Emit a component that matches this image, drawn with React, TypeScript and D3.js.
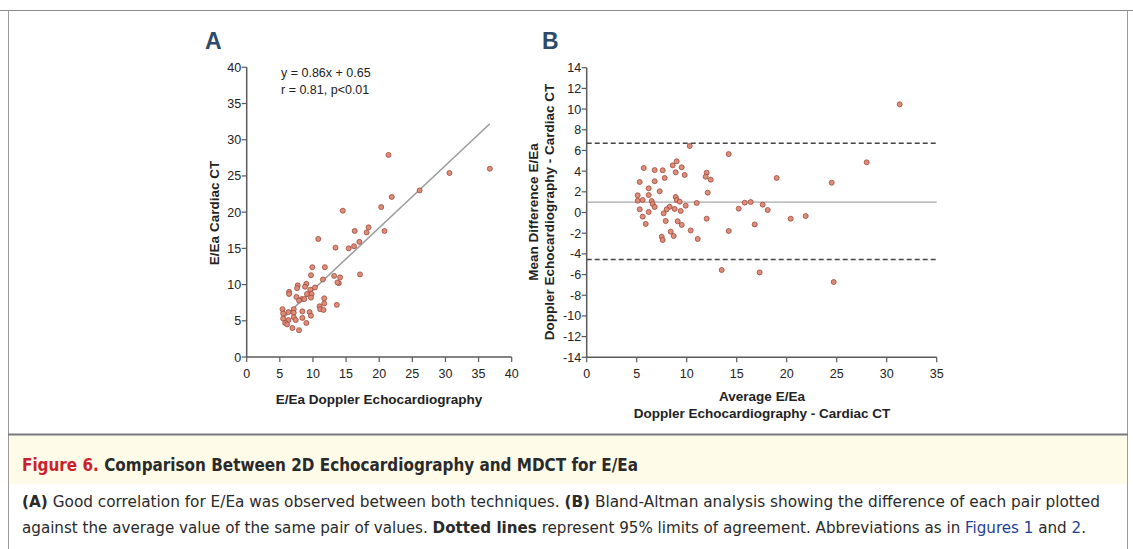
import React from "react";
import * as d3 from "d3";

// Panel A: E/Ea Doppler (x) vs E/Ea Cardiac CT (y)
const aX = [21.4,36.7,30.6,26.1,21.9,20.3,14.5,10.8,16.3,18.4,18.1,20.8,17.0,16.2,15.4,13.4,9.9,11.8,9.7,13.2,14.1,17.1,11.5,
  13.9,13.7,7.7,9.0,6.4,6.4,7.6,8.8,9.6,10.3,7.5,9.1,9.8,8.3,7.9,8.7,9.7,11.7,11.7,11.0,11.1,11.6,13.6,
  5.4,5.5,6.3,7.1,7.1,8.4,9.5,9.7,5.5,6.3,7.1,7.4,8.4,5.8,6.1,9.0,6.9,7.9];
const aY = [27.9,26.0,25.4,23.0,22.1,20.7,20.2,16.3,17.4,17.9,17.2,17.4,15.9,15.3,15.0,15.1,12.4,12.4,11.3,11.2,11.0,11.4,10.7,
  10.2,10.3,9.9,10.1,9.0,8.7,9.5,9.7,9.3,9.6,8.3,8.7,8.7,8.0,7.8,8.0,8.2,8.1,7.4,7.0,6.6,6.5,7.2,
  6.6,6.0,6.2,6.6,6.1,6.3,6.2,5.7,5.3,5.1,5.5,5.1,5.4,4.7,4.5,4.7,4.0,3.7];
const regSlope = 0.86;
const regIntercept = 0.65;
const regRange = [5.4, 36.7];

// Panel B: Bland-Altman
const bX = [31.3,10.3,14.2,28.0,24.5,19.0,5.7,6.8,7.6,8.6,9.0,9.5,8.9,9.8,7.8,12.0,11.9,12.4,5.3,6.8,6.2,7.3,12.1,5.1,6.2,8.9,
  5.1,5.6,6.5,9.0,9.3,6.6,11.0,15.8,16.4,6.8,9.9,17.6,5.3,8.3,8.0,8.8,15.2,18.1,6.2,9.4,7.7,5.6,12.0,20.4,21.9,7.9,9.1,
  5.9,9.5,16.8,10.4,8.4,14.2,7.5,8.7,7.6,11.1,13.5,17.3,24.7];
const bY = [10.46,6.43,5.65,4.85,2.88,3.34,4.3,4.1,4.08,4.56,4.95,4.37,3.89,3.63,3.34,3.85,3.46,3.17,2.95,3.02,2.34,2.05,1.92,1.66,1.69,1.5,
  1.14,1.21,1.11,1.21,1.05,0.82,0.92,0.95,1.01,0.53,0.66,0.76,0.31,0.56,0.31,0.34,0.37,0.24,0.05,0.15,-0.08,-0.4,-0.6,-0.6,-0.34,-0.82,-0.85,
  -1.1,-1.2,-1.15,-1.73,-1.85,-1.79,-2.34,-2.27,-2.66,-2.56,-5.56,-5.79,-6.72];
const meanDiff = 1.0;
const upperLoA = 6.7;
const lowerLoA = -4.55;

const aTicks = [0, 5, 10, 15, 20, 25, 30, 35, 40];
const bXTicks = [0, 5, 10, 15, 20, 25, 30, 35];
const bYTicks = [-14, -12, -10, -8, -6, -4, -2, 0, 2, 4, 6, 8, 10, 12, 14];

const FONT = "'Liberation Sans', Arial, Helvetica, sans-serif";
const CAP = "'Liberation Sans Narrow', 'DejaVu Sans Condensed', 'Liberation Sans', sans-serif";
const AXIS = "#5a5a5a";
const TXT = "#222";
const PT_FILL = "#df8c79";
const PT_STROKE = "#9a4a3b";
const TICK_FS = 12.5;
const TITLE_FS = 13.5;

export default function App() {
  const ax = d3.scaleLinear().domain([0, 40]).range([246.7, 511.7]);
  const ay = d3.scaleLinear().domain([0, 40]).range([357, 67.3]);
  const bx = d3.scaleLinear().domain([0, 35]).range([586.7, 936.7]);
  const by = d3.scaleLinear().domain([-14, 14]).range([357.3, 67.7]);

  const regLine = d3.line<number>()
    .x((d) => ax(d))
    .y((d) => ay(regSlope * d + regIntercept))(regRange);

  return (
    <div style={{ position: "fixed", left: 0, top: 0 }}>
      <svg width={1133} height={549} style={{ display: "block", background: "#fff" }}>
        {/* frame */}
        <line x1={0} x2={1133} y1={10.5} y2={10.5} stroke="#8a8a8a" strokeWidth={1} />
        <line x1={8.5} x2={8.5} y1={10} y2={549} stroke="#9a9a9a" strokeWidth={1} />
        <line x1={1127.5} x2={1127.5} y1={10} y2={549} stroke="#9a9a9a" strokeWidth={1} />
        <rect x={9} y={436} width={1118} height={48} fill="#fefbe9" />
        <line x1={8} x2={1128} y1={434.5} y2={434.5} stroke="#7a7a7a" strokeWidth={2} />

        {/* Panel A */}
        <text x={205} y={49} fontFamily={FONT} fontWeight="bold" fontSize={23} fill="#2e4b6c">A</text>
        <line x1={ax(0)} x2={ax(0)} y1={ay(0)} y2={ay(40)} stroke={AXIS} strokeWidth={1.5} />
        <line x1={ax(0)} x2={ax(40)} y1={ay(0)} y2={ay(0)} stroke={AXIS} strokeWidth={1.5} />
        {aTicks.map((t) => (
          <g key={"ay" + t}>
            <line x1={ax(0) - 5} x2={ax(0)} y1={ay(t)} y2={ay(t)} stroke={AXIS} strokeWidth={1.2} />
            <text x={ax(0) - 5.5} y={ay(t) + 4.5} textAnchor="end" fontFamily={FONT} fontSize={TICK_FS} fill={TXT}>{t}</text>
          </g>
        ))}
        {aTicks.map((t) => (
          <g key={"ax" + t}>
            <line x1={ax(t)} x2={ax(t)} y1={ay(0)} y2={ay(0) + 5} stroke={AXIS} strokeWidth={1.2} />
            <text x={ax(t)} y={ay(0) + 21} textAnchor="middle" fontFamily={FONT} fontSize={TICK_FS} fill={TXT}>{t}</text>
          </g>
        ))}
        <path d={regLine || ""} stroke="#9b9b9b" strokeWidth={1.5} fill="none" />
        {aX.map((x, i) => (
          <circle key={"a" + i} cx={ax(x)} cy={ay(aY[i])} r={2.5} fill={PT_FILL} stroke={PT_STROKE} strokeWidth={0.8} />
        ))}
        <text x={281} y={77} fontFamily={FONT} fontSize={12.5} fill={TXT}>y = 0.86x + 0.65</text>
        <text x={281} y={94} fontFamily={FONT} fontSize={12.5} fill={TXT}>r = 0.81, p&lt;0.01</text>
        <text x={379} y={404} textAnchor="middle" fontFamily={FONT} fontWeight="bold" fontSize={TITLE_FS} fill={TXT}>E/Ea Doppler Echocardiography</text>
        <text transform="translate(219,213) rotate(-90)" textAnchor="middle" fontFamily={FONT} fontWeight="bold" fontSize={TITLE_FS} fill={TXT}>E/Ea Cardiac CT</text>

        {/* Panel B */}
        <text x={542} y={49} fontFamily={FONT} fontWeight="bold" fontSize={23} fill="#2e4b6c">B</text>
        <line x1={bx(0)} x2={bx(0)} y1={by(-14)} y2={by(14)} stroke={AXIS} strokeWidth={1.5} />
        <line x1={bx(0)} x2={bx(35)} y1={by(-14)} y2={by(-14)} stroke={AXIS} strokeWidth={1.5} />
        {bYTicks.map((t) => (
          <g key={"by" + t}>
            <line x1={bx(0) - 5} x2={bx(0)} y1={by(t)} y2={by(t)} stroke={AXIS} strokeWidth={1.2} />
            <text x={bx(0) - 5.5} y={by(t) + 4.5} textAnchor="end" fontFamily={FONT} fontSize={TICK_FS} fill={TXT}>{t}</text>
          </g>
        ))}
        {bXTicks.map((t) => (
          <g key={"bx" + t}>
            <line x1={bx(t)} x2={bx(t)} y1={by(-14)} y2={by(-14) + 5} stroke={AXIS} strokeWidth={1.2} />
            <text x={bx(t)} y={by(-14) + 21} textAnchor="middle" fontFamily={FONT} fontSize={TICK_FS} fill={TXT}>{t}</text>
          </g>
        ))}
        <line x1={bx(0)} x2={bx(35)} y1={by(meanDiff)} y2={by(meanDiff)} stroke="#a8a8a8" strokeWidth={1.3} />
        <line x1={bx(0)} x2={bx(35)} y1={by(upperLoA)} y2={by(upperLoA)} stroke="#444" strokeWidth={1.4} strokeDasharray="5,3" />
        <line x1={bx(0)} x2={bx(35)} y1={by(lowerLoA)} y2={by(lowerLoA)} stroke="#444" strokeWidth={1.4} strokeDasharray="5,3" />
        {bX.map((x, i) => (
          <circle key={"b" + i} cx={bx(x)} cy={by(bY[i])} r={2.5} fill={PT_FILL} stroke={PT_STROKE} strokeWidth={0.8} />
        ))}
        <text x={762} y={401} textAnchor="middle" fontFamily={FONT} fontWeight="bold" fontSize={TITLE_FS} fill={TXT}>Average E/Ea</text>
        <text x={762} y={418} textAnchor="middle" fontFamily={FONT} fontWeight="bold" fontSize={TITLE_FS} fill={TXT}>Doppler Echocardiography - Cardiac CT</text>
        <text transform="translate(538,212) rotate(-90)" textAnchor="middle" fontFamily={FONT} fontWeight="bold" fontSize={TITLE_FS} fill={TXT}>Mean Difference E/Ea</text>
        <text transform="translate(554,212) rotate(-90)" textAnchor="middle" fontFamily={FONT} fontWeight="bold" fontSize={TITLE_FS} fill={TXT}>Doppler Echocardiography - Cardiac CT</text>

        {/* Caption */}
        <text x={22} y={471} fontFamily={CAP} fontWeight="bold" fontSize={17} fill="#2a2a2a" textLength={616} lengthAdjust="spacingAndGlyphs">
          <tspan fill="#cc1f2d">Figure 6.</tspan>
          <tspan> Comparison Between 2D Echocardiography and MDCT for E/Ea</tspan>
        </text>
        <text x={22} y={507} fontFamily={CAP} fontSize={16.5} fill="#2a2a2a" textLength={1078} lengthAdjust="spacingAndGlyphs">
          <tspan fontWeight="bold">(A)</tspan>
          <tspan> Good correlation for E/Ea was observed between both techniques. </tspan>
          <tspan fontWeight="bold">(B)</tspan>
          <tspan> Bland-Altman analysis showing the difference of each pair plotted</tspan>
        </text>
        <text x={22} y={533} fontFamily={CAP} fontSize={16.5} fill="#2a2a2a" textLength={1064} lengthAdjust="spacingAndGlyphs">
          <tspan>against the average value of the same pair of values. </tspan>
          <tspan fontWeight="bold">Dotted lines</tspan>
          <tspan> represent 95% limits of agreement. Abbreviations as in </tspan>
          <tspan fill="#1f3f96">Figures 1</tspan>
          <tspan> and </tspan>
          <tspan fill="#1f3f96">2</tspan>
          <tspan>.</tspan>
        </text>
      </svg>
    </div>
  );
}
